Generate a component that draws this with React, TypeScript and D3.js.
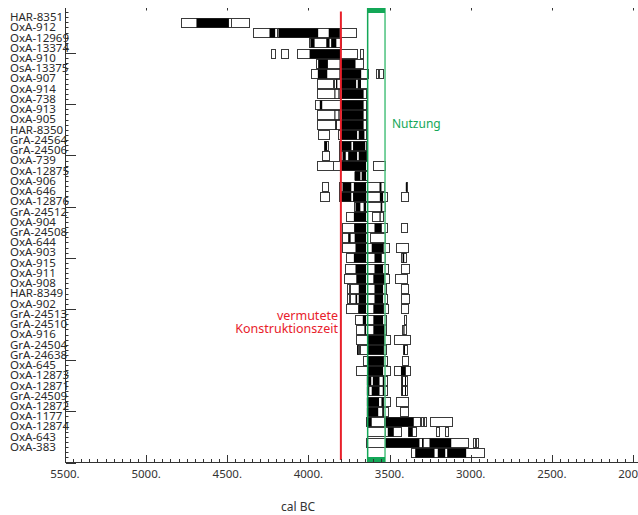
import React from "react";
import * as d3 from "d3";

const labels = [
  "HAR-8351", "OxA-912", "OxA-12969", "OxA-13374", "OxA-910", "OsA-13375", "OxA-907", "OxA-914",
  "OxA-738", "OxA-913", "OxA-905", "HAR-8350", "GrA-24564", "GrA-24506", "OxA-739", "OxA-12875",
  "OxA-906", "OxA-646", "OxA-12876", "GrA-24512", "OxA-904", "GrA-24508", "OxA-644", "OxA-903",
  "OxA-915", "OxA-911", "OxA-908", "HAR-8349", "OxA-902", "GrA-24513", "GrA-24510", "OxA-916",
  "GrA-24504", "GrA-24638", "OxA-645", "OxA-12873", "OxA-12871", "GrA-24509", "OxA-12872",
  "OxA-1177", "OxA-12874", "OxA-643", "OxA-383",
];

// 95.4% ranges (white boxes), cal BC
const ranges95: number[][][] = [
  [[4785, 4475], [4475, 4365]],
  [[4340, 4195], [4195, 3810], [3810, 3705]],
  [[3995, 3795]],
  [[4230, 4205], [4170, 4128], [4072, 3700], [3685, 3665]],
  [[3952, 3660]],
  [[3983, 3634], [3582, 3572], [3566, 3542]],
  [[3946, 3845], [3845, 3644]],
  [[3946, 3645]],
  [[3958, 3645]],
  [[3946, 3645]],
  [[3946, 3645]],
  [[3940, 3870], [3820, 3645]],
  [[3905, 3880], [3810, 3645]],
  [[3915, 3870], [3810, 3635]],
  [[3946, 3850], [3850, 3800], [3800, 3640], [3603, 3531]],
  [[3716, 3644]],
  [[3918, 3881], [3809, 3531], [3400, 3395]],
  [[3930, 3872], [3809, 3515], [3428, 3382]],
  [[3720, 3530]],
  [[3767, 3720], [3720, 3640], [3610, 3540]],
  [[3792, 3716], [3716, 3640], [3638, 3515], [3428, 3391]],
  [[3795, 3640], [3620, 3530]],
  [[3792, 3640], [3640, 3505], [3460, 3383]],
  [[3767, 3640], [3638, 3525], [3430, 3398]],
  [[3773, 3640], [3638, 3510], [3432, 3383]],
  [[3782, 3640], [3638, 3500], [3465, 3388]],
  [[3765, 3752], [3745, 3640], [3638, 3520], [3432, 3388]],
  [[3765, 3752], [3745, 3640], [3638, 3515], [3432, 3383]],
  [[3770, 3695], [3695, 3640], [3638, 3510], [3432, 3388]],
  [[3716, 3640], [3638, 3520], [3410, 3398]],
  [[3706, 3640], [3638, 3520], [3425, 3403]],
  [[3706, 3638], [3638, 3495], [3475, 3378]],
  [[3700, 3690], [3680, 3638], [3638, 3520], [3420, 3395]],
  [[3665, 3638], [3638, 3515], [3425, 3390]],
  [[3706, 3640], [3638, 3495], [3475, 3378]],
  [[3640, 3517], [3430, 3395]],
  [[3640, 3517], [3430, 3395]],
  [[3640, 3500], [3460, 3385]],
  [[3640, 3510], [3435, 3385]],
  [[3644, 3531], [3531, 3316], [3305, 3295], [3289, 3279], [3248, 3114]],
  [[3640, 3531], [3527, 3428], [3388, 3336], [3213, 3197], [3157, 3141]],
  [[3644, 3527], [3527, 3018], [2987, 2977], [2966, 2952]],
  [[3367, 2915]],
];

// 68.2% ranges (black fills), cal BC
const ranges68: number[][][] = [
  [[4690, 4490]],
  [[4240, 4205], [4185, 3940], [3875, 3810]],
  [[3988, 3962], [3890, 3870], [3860, 3828]],
  [[3993, 3804]],
  [[3940, 3880], [3808, 3710]],
  [[3942, 3884], [3809, 3675]],
  [[3830, 3822], [3800, 3706], [3696, 3676]],
  [[3840, 3835], [3815, 3808], [3795, 3660]],
  [[3930, 3915], [3800, 3660]],
  [[3840, 3835], [3815, 3808], [3795, 3660]],
  [[3835, 3825], [3800, 3660]],
  [[3800, 3700], [3690, 3655]],
  [[3900, 3885], [3795, 3735], [3725, 3650]],
  [[3790, 3770], [3755, 3700], [3690, 3640]],
  [[3795, 3645]],
  [[3716, 3680], [3672, 3645]],
  [[3790, 3736], [3720, 3645], [3562, 3550], [3400, 3395]],
  [[3800, 3736], [3725, 3644], [3560, 3540]],
  [[3710, 3680], [3660, 3645], [3555, 3545]],
  [[3720, 3645], [3562, 3555]],
  [[3716, 3645], [3593, 3548]],
  [[3755, 3740], [3715, 3645]],
  [[3710, 3645], [3610, 3536]],
  [[3720, 3645], [3593, 3548], [3420, 3410]],
  [[3710, 3645], [3593, 3540]],
  [[3705, 3645], [3600, 3530]],
  [[3690, 3645], [3593, 3540]],
  [[3710, 3700], [3690, 3645], [3593, 3540]],
  [[3690, 3645], [3600, 3535]],
  [[3665, 3645], [3600, 3540]],
  [[3655, 3645], [3600, 3530], [3415, 3408]],
  [[3635, 3530]],
  [[3700, 3690], [3635, 3535], [3412, 3405]],
  [[3635, 3535]],
  [[3635, 3540], [3430, 3400]],
  [[3640, 3613], [3603, 3562], [3542, 3531], [3425, 3418], [3405, 3400]],
  [[3640, 3625], [3610, 3562], [3542, 3531], [3425, 3418], [3405, 3400]],
  [[3640, 3565], [3550, 3535]],
  [[3640, 3570], [3545, 3535]],
  [[3640, 3610], [3531, 3351]],
  [[3511, 3474], [3383, 3357]],
  [[3527, 3316], [3300, 3290], [3254, 3120]],
  [[3342, 3223], [3203, 3157], [3145, 3028]],
];

const xTickValues = [5500, 5000, 4500, 4000, 3500, 3000, 2500, 2000];
const yMajorTicks = [0, 5, 10, 15, 20, 25, 30, 35, 40];
const constructionYear = 3800;
const usagePeriod = [3635, 3528];
const constructionText = ["vermutete", "Konstruktionszeit"];
const usageText = "Nutzung";
const xTitle = "cal BC";

const FONT = "'Noto Sans', 'DejaVu Sans', sans-serif";

export default function App() {
  const W = 638;
  const H = 515;
  const x = d3.scaleLinear().domain([5500, 2000]).range([65, 633]);
  const y = d3.scaleLinear().domain([0, 44.4]).range([462.5, 8]);
  const n = labels.length;
  const rowY = (i: number) => y(n - i);
  const boxH = 9;

  const xMinor = d3.range(5500, 1999, -50);
  const yMinor = d3.range(0, 44.01, 0.5);
  const axisColor = "#333";
  const red = "#e8202a";
  const green = "#13a757";

  return (
    <svg width={W} height={H} style={{ position: "absolute", left: 0, top: 0, background: "#fff" }}>
      {/* boxes */}
      {ranges95.map((row, i) =>
        row.map((r, j) => (
          <rect
            key={`b${i}-${j}`}
            x={Math.round(x(r[0])) + 0.5}
            y={Math.round(rowY(i) - boxH / 2) + 0.5}
            width={Math.max(1, Math.round(x(r[1]) - x(r[0])))}
            height={boxH}
            fill="#fff"
            stroke="#3a3a3a"
            strokeWidth={1}
          />
        ))
      )}
      {ranges68.map((row, i) =>
        row.map((r, j) => (
          <rect
            key={`k${i}-${j}`}
            x={x(r[0])}
            y={Math.round(rowY(i) - boxH / 2) + 0.5}
            width={Math.max(1, x(r[1]) - x(r[0]))}
            height={boxH}
            fill="#000"
          />
        ))
      )}

      {/* construction line */}
      <line x1={x(constructionYear)} x2={x(constructionYear)} y1={11.5} y2={460} stroke={red} strokeWidth={2} />
      {/* usage period */}
      <line x1={x(usagePeriod[0])} x2={x(usagePeriod[0])} y1={8} y2={462} stroke={green} strokeWidth={1.5} />
      <line x1={x(usagePeriod[1])} x2={x(usagePeriod[1])} y1={8} y2={462} stroke="#4cc27e" strokeWidth={1.5} />
      <rect x={x(usagePeriod[0])} y={8} width={x(usagePeriod[1]) - x(usagePeriod[0])} height={5} fill={green} />
      <rect x={x(usagePeriod[0])} y={457} width={x(usagePeriod[1]) - x(usagePeriod[0])} height={5} fill={green} />

      {/* annotations */}
      <text x={392} y={128} fontFamily={FONT} fontSize={12} fill={green}>{usageText}</text>
      <text x={338} y={320} fontFamily={FONT} fontSize={12.5} fill={red} textAnchor="end">{constructionText[0]}</text>
      <text x={338} y={333} fontFamily={FONT} fontSize={12.5} fill={red} textAnchor="end">{constructionText[1]}</text>

      {/* axes */}
      <line x1={65.5} x2={65.5} y1={8} y2={463} stroke={axisColor} strokeWidth={1} />
      <line x1={65} x2={638} y1={462.5} y2={462.5} stroke={axisColor} strokeWidth={1} />
      {xMinor.map((v) => (
        <line key={`xm${v}`} x1={Math.round(x(v)) + 0.5} x2={Math.round(x(v)) + 0.5} y1={462} y2={459} stroke={axisColor} strokeWidth={1} />
      ))}
      {xTickValues.map((v) => (
        <g key={`xt${v}`}>
          <line x1={Math.round(x(v)) + 0.5} x2={Math.round(x(v)) + 0.5} y1={462} y2={455} stroke={axisColor} strokeWidth={1} />
          <line x1={Math.round(x(v)) + 0.5} x2={Math.round(x(v)) + 0.5} y1={8} y2={10.5} stroke={axisColor} strokeWidth={1} />
          <text x={x(v)} y={478} fontFamily={FONT} fontSize={11.5} fill="#333" textAnchor="middle">{`${v}.`}</text>
        </g>
      ))}
      {yMinor.map((v) => (
        <line key={`ym${v}`} x1={66} x2={68.5} y1={Math.round(y(v)) + 0.5} y2={Math.round(y(v)) + 0.5} stroke={axisColor} strokeWidth={1} />
      ))}
      {yMajorTicks.map((v) => (
        <line key={`yt${v}`} x1={66} x2={76} y1={Math.round(y(v)) + 0.5} y2={Math.round(y(v)) + 0.5} stroke={axisColor} strokeWidth={1} />
      ))}
      {labels.map((l, i) => (
        <text key={`l${i}`} x={10} y={rowY(i) - 1.3} fontFamily={FONT} fontSize={11.5} fill="#2a2a2a">{l}</text>
      ))}
      <text x={298} y={511} fontFamily={FONT} fontSize={12} fill="#333" textAnchor="middle">{xTitle}</text>
    </svg>
  );
}
